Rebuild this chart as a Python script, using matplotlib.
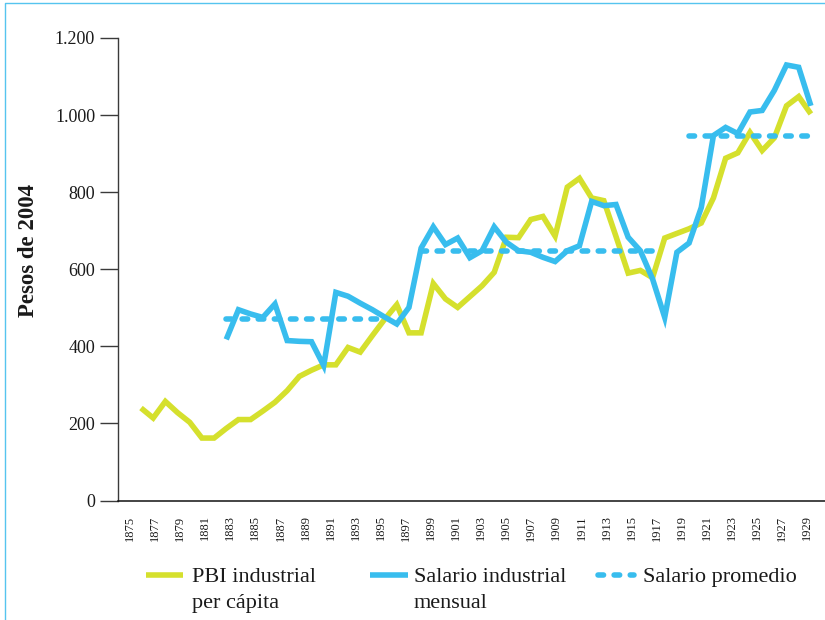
import matplotlib
matplotlib.use("Agg")
import matplotlib.pyplot as plt
from matplotlib.lines import Line2D

# ---------------- data ----------------
years = list(range(1875, 1931))
pbi_industrial = [240, 214, 257, 228, 203, 162, 162, 187, 210, 210,
                  232, 255, 285, 322, 338, 352, 352, 397, 385, 428,
                  470, 508, 435, 435, 563, 523, 501, 529, 557, 592,
                  683, 682, 729, 737, 686, 813, 836, 785, 778, 685,
                  590, 597, 578, 681, 693, 705, 720, 785, 888, 902,
                  955, 908, 941, 1024, 1048, 1003]

salario_years = list(range(1882, 1931))
salario_industrial = [418, 495, 484, 475, 510, 415, 413, 412, 350, 540,
                      530, 512, 495, 476, 458, 501, 655, 710, 664, 681,
                      630, 648, 710, 670, 648, 644, 631, 620, 648, 661,
                      776, 765, 768, 683, 648, 575, 475, 644, 668, 760,
                      947, 968, 952, 1008, 1012, 1064, 1130, 1124, 1024]

promedio_start = [1882, 1898, 1920]
promedio_end = [1895, 1917, 1930]
promedio_value = [472, 648, 947]

label_years = list(range(1875, 1930, 2))
y_ticks = [0, 200, 400, 600, 800, 1000, 1200]
y_tick_labels = ["0", "200", "400", "600", "800", "1.000", "1.200"]

legend_labels = [["PBI industrial", "per cápita"],
                 ["Salario industrial", "mensual"],
                 ["Salario promedio"]]

# ---------------- style ----------------
YELLOW = "#d5e02d"
BLUE = "#38bdee"
BORDER = "#55c4ef"
TXT = "#1a1a1a"
LW = 4.0
DASH = (0, (1.0, 1.9))
SERIF = ["Liberation Serif", "DejaVu Serif"]

plt.rcParams["font.family"] = SERIF

W, H = 825, 620
fig = plt.figure(figsize=(W / 100, H / 100), dpi=100)


def fx(px):
    return px / W


def fy(py):
    return 1 - py / H


ax = fig.add_axes([fx(117.7), fy(500.5), fx(825) - fx(117.7), fy(38) - fy(500.5)])

ax.plot(years, pbi_industrial, color=YELLOW, lw=LW, solid_capstyle="butt",
        solid_joinstyle="miter", zorder=2, clip_on=False)
ax.plot(salario_years, salario_industrial, color=BLUE, lw=LW, solid_capstyle="butt",
        solid_joinstyle="miter", zorder=3, clip_on=False)
for s, e, v in zip(promedio_start, promedio_end, promedio_value):
    ax.plot([s, e], [v, v], color=BLUE, lw=LW, linestyle=DASH,
            dash_capstyle="round", zorder=4, clip_on=False)

ax.set_xlim(1873.087, 1931.16)
ax.set_ylim(0, 1200)
ax.set_yticks(y_ticks)
ax.set_yticklabels(y_tick_labels)
for side in ("top", "right"):
    ax.spines[side].set_visible(False)
ax.spines["left"].set_color("#3a3a3a")
ax.spines["left"].set_linewidth(1.0)
ax.spines["bottom"].set_color("#111111")
ax.spines["bottom"].set_linewidth(1.1)

# category label axis (labels laid out on their own even spacing)
axl = ax.twiny()
axl.set_xlim(1874.019, 1930.42)
axl.xaxis.set_ticks_position("bottom")
axl.xaxis.set_label_position("bottom")
axl.set_xticks(label_years)
axl.set_xticklabels([str(y) for y in label_years], rotation=90)
axl.tick_params(axis="x", length=0, pad=10.8, labelsize=9, labelcolor=TXT)
for sp in axl.spines.values():
    sp.set_visible(False)

# main axis tick styling (after twiny, which resets x tick positions)
ax.set_xticks([])
ax.tick_params(axis="x", bottom=False, top=False, labelbottom=False, labeltop=False)
ax.tick_params(axis="y", direction="out", length=12.7, width=1.0, color="#3a3a3a",
               pad=3.6, labelsize=13, labelcolor=TXT)

# y label
fig.text(fx(28.5), fy(251), "Pesos de 2004", rotation=90, ha="center", va="center",
         fontsize=16.5, fontweight="bold", color=TXT)

# legend (manual layout)
handle_y = fy(575)
fig.add_artist(Line2D([fx(146), fx(183)], [handle_y, handle_y], color=YELLOW, lw=LW,
                      solid_capstyle="butt"))
fig.add_artist(Line2D([fx(370), fx(408)], [handle_y, handle_y], color=BLUE, lw=LW,
                      solid_capstyle="butt"))
fig.add_artist(Line2D([fx(598), fx(633.5)], [handle_y, handle_y], color=BLUE, lw=LW,
                      linestyle=DASH, dash_capstyle="round"))

text_x = [192, 414, 643]
for x0, lines in zip(text_x, legend_labels):
    for i, line in enumerate(lines):
        fig.text(fx(x0), fy(581.7 + 26.6 * i), line, ha="left", va="baseline",
                 fontsize=16, color=TXT)

# frame lines (left and top)
fig.add_artist(Line2D([fx(4.7), fx(4.7), 1.0], [0, fy(2.7), fy(2.7)],
                      color=BORDER, lw=1.0))

fig.savefig("out.png", dpi=100)
